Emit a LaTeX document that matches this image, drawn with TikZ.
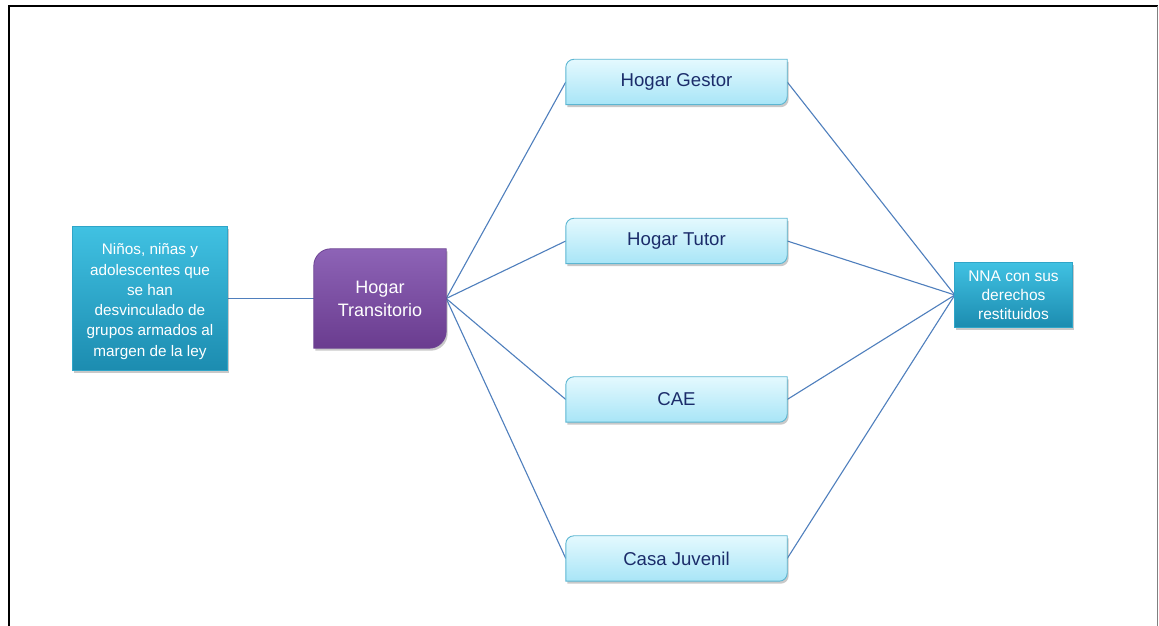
\documentclass[tikz,border=0pt]{standalone}
\usepackage{fontspec}
\setmainfont{Liberation Sans}
\usetikzlibrary{shadows,backgrounds}
\definecolor{tealtop}{HTML}{40C1E2}
\definecolor{tealbot}{HTML}{1C8CB0}
\definecolor{tealline}{HTML}{2FA5C8}
\definecolor{purtop}{HTML}{8D63B6}
\definecolor{purbot}{HTML}{6A3C8F}
\definecolor{purline}{HTML}{6E4594}
\definecolor{cyantop}{HTML}{E4F9FE}
\definecolor{cyanbot}{HTML}{A8E5F7}
\definecolor{cyanline}{HTML}{5CB6D2}
\definecolor{navy}{HTML}{1B2C6A}
\definecolor{linkc}{HTML}{4F7FBD}
\newcommand\rdshape[3]{%
  \path[#3] ([xshift=#2]#1.north west) -- (#1.north east) -- ([yshift=#2]#1.south east)
    arc[start angle=0,end angle=-90,radius=#2] -- (#1.south west) -- ([yshift=-#2]#1.north west)
    arc[start angle=180,end angle=90,radius=#2] -- cycle;}
\tikzset{
  txt/.style={inner sep=0pt, align=center, text=white},
  leftbox/.style={txt, minimum width=154pt, minimum height=143pt, font=\fontsize{15.3pt}{20.3pt}\selectfont},
  htbox/.style={txt, minimum width=132pt, minimum height=99pt, font=\fontsize{18pt}{23pt}\selectfont},
  optbox/.style={inner sep=0pt, align=center, text=navy, minimum width=221pt, minimum height=45pt, font=\fontsize{18.6pt}{21pt}\selectfont},
  nnabox/.style={txt, minimum width=117pt, minimum height=64pt, font=\fontsize{15.5pt}{19pt}\selectfont},
  shad/.style={drop shadow={opacity=0.35, shadow xshift=1.5pt, shadow yshift=-2.5pt, fill=black!60}},
  tealfill/.style={shad, top color=tealtop, bottom color=tealbot, draw=tealline, line width=0.8pt},
  purfill/.style={shad, top color=purtop, bottom color=purbot, draw=purline, line width=0.8pt},
  cyanfill/.style={shad, top color=cyantop, bottom color=cyanbot, draw=cyanline, line width=0.9pt},
  link/.style={draw=linkc, line width=1.1pt},
}
\begin{document}
\begin{tikzpicture}[x=1pt,y=1pt]
\useasboundingbox (0,0) rectangle (1159,626);
% nodes
\node[leftbox] (nna0) at (150,324.5) {Niños, niñas y\\adolescentes que\\se han\\desvinculado de\\grupos armados al\\margen de la ley};
\node[htbox] (ht) at (380,327.5) {Hogar\\Transitorio};
\node[optbox] (hg) at (676.5,544) {Hogar Gestor};
\node[optbox] (htu) at (676.5,385) {Hogar Tutor};
\node[optbox] (cae) at (676.5,226.5) {CAE};
\node[optbox] (cj) at (676.5,67.5) {Casa Juvenil};
\node[nnabox] (res) at (1013.5,331) {NNA con sus\\derechos\\restituidos};
\begin{scope}[on background layer]
  \fill[white] (0,0) rectangle (1159,626);
  % frame
  \draw[black, line width=2pt] (8.5,0) -- (8.5,620) -- (1158,620);
  \draw[gray, line width=1.2pt] (1157.5,620) -- (1157.5,0);
  % connectors
  \draw[link] ([yshift=3pt]nna0.east) -- (ht.west);
  \foreach \b in {hg,htu,cae,cj}{
    \draw[link] (ht.east) -- (\b.west);
    \draw[link] (\b.east) -- (res.west);
  }
  \path[tealfill] ([yshift=3pt]nna0.south west) rectangle ([yshift=3pt]nna0.north east);
  \path[tealfill] (res.south west) rectangle (res.north east);
  \rdshape{ht}{17pt}{purfill}
  \rdshape{hg}{8pt}{cyanfill}
  \rdshape{htu}{8pt}{cyanfill}
  \rdshape{cae}{8pt}{cyanfill}
  \rdshape{cj}{8pt}{cyanfill}
\end{scope}
\end{tikzpicture}
\end{document}
